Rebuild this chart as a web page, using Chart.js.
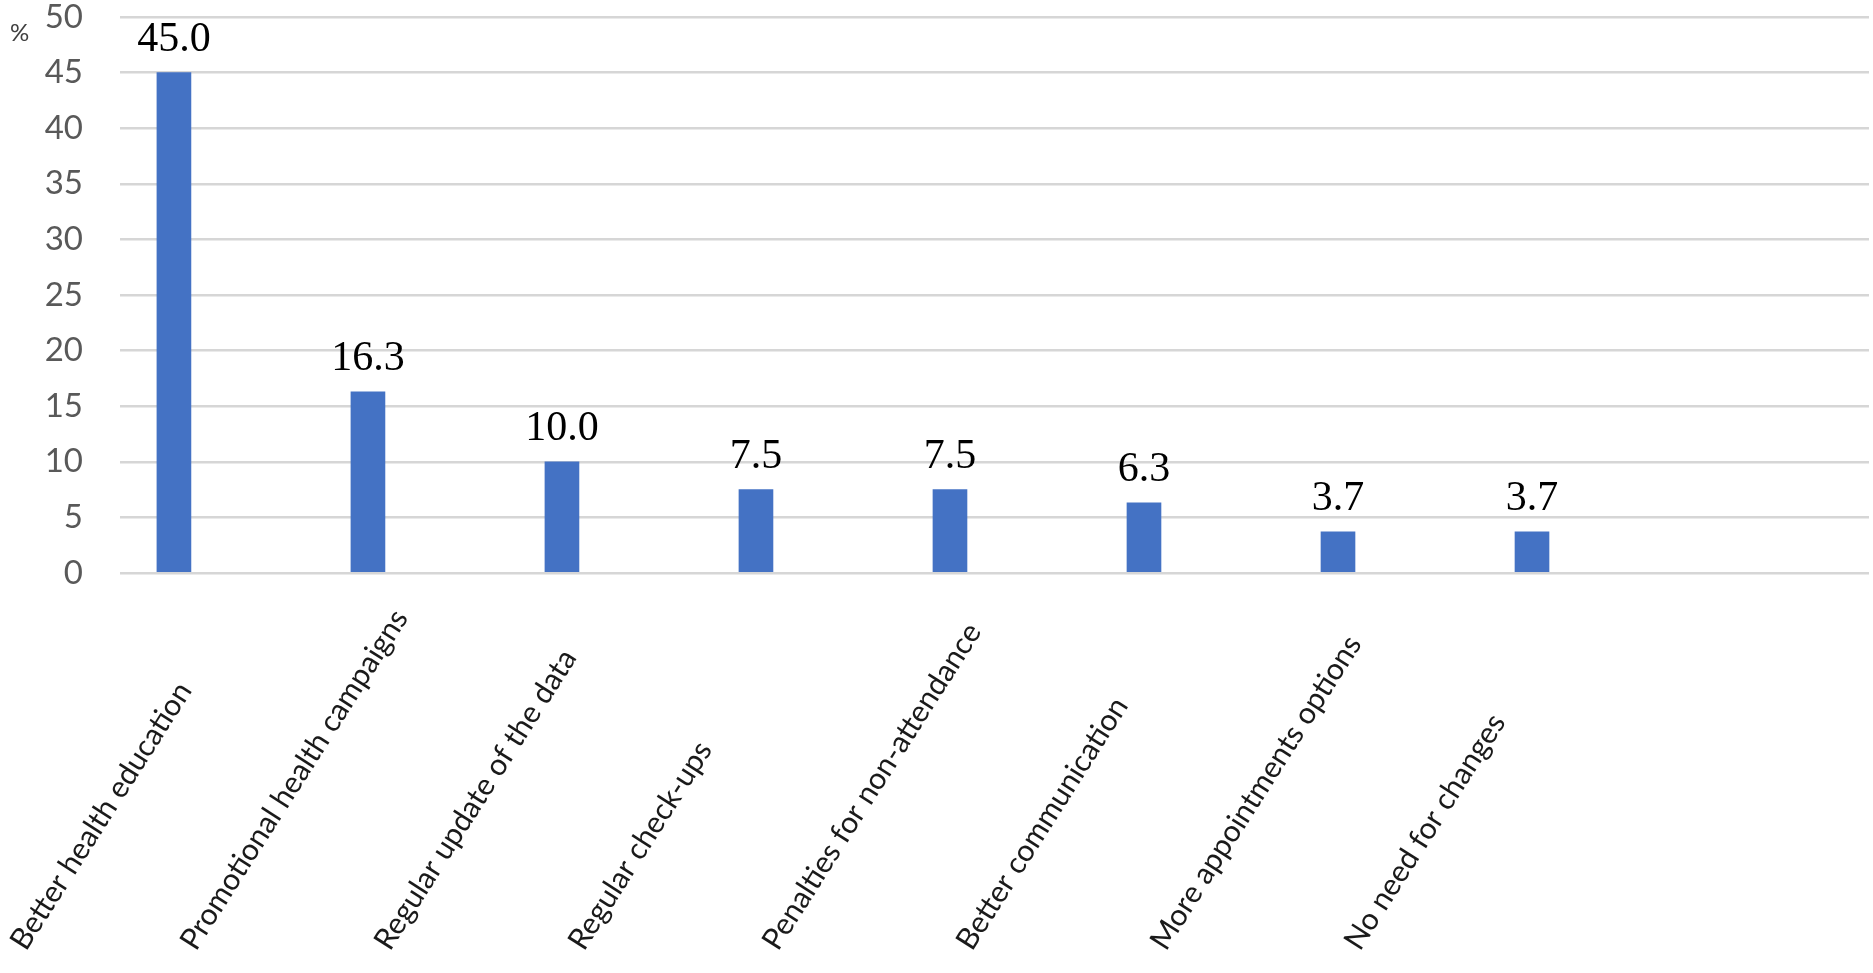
<!DOCTYPE html>
<html>
<head>
<meta charset="utf-8">
<script src="https://cdn.jsdelivr.net/npm/chart.js@4/dist/chart.umd.min.js"></script>
<style>
  html, body { margin: 0; padding: 0; background: #fff; }
  #wrap { width: 1873px; height: 973px; }
</style>
</head>
<body>
<div id="wrap"><canvas id="chart" width="1873" height="973"></canvas></div>
<script>
const categories = [
    "Better health education",
    "Promotional health campaigns",
    "Regular update of the data",
    "Regular check-ups",
    "Penalties for non-attendance",
    "Better communication",
    "More appointments options",
    "No need for changes"
];
const percentValues = [45.0, 16.3, 10.0, 7.5, 7.5, 6.3, 3.7, 3.7];
const yTicks = [0, 5, 10, 15, 20, 25, 30, 35, 40, 45, 50];
const unitLabel = "%";

document.addEventListener("DOMContentLoaded", () => {
    //value labels, rotated category labels and the % sign
    const textPlugin = {
        id: "textPlugin",
        afterDatasetsDraw(chart) {
            const ctx = chart.ctx;
            const meta = chart.getDatasetMeta(0);
            const xScale = chart.scales.x;
            const yScale = chart.scales.y;

            ctx.save();
            ctx.font = '42px "Liberation Serif"';
            ctx.fillStyle = "#000";
            ctx.textAlign = "center";
            ctx.textBaseline = "alphabetic";
            meta.data.forEach((bar, i) => {
                ctx.fillText(percentValues[i].toFixed(1), bar.x, bar.y - 22);
            });

            ctx.font = "30px Lato";
            ctx.fillStyle = "#1a1a1a";
            ctx.textAlign = "left";
            categories.forEach((label, i) => {
                //keep the first label inside the canvas
                const x0 = Math.max(xScale.getPixelForValue(i) - 172, yScale.left + 26);
                ctx.save();
                ctx.translate(x0, xScale.bottom - 21);
                ctx.rotate(-57.5 * Math.PI / 180);
                ctx.fillText(label, 0, 0);
                ctx.restore();
            });

            ctx.font = "24px Lato";
            ctx.fillStyle = "#404040";
            ctx.fillText(unitLabel, yScale.left + 10, yScale.getPixelForValue(yTicks[yTicks.length - 1]) + 24);
            ctx.restore();
        }
    };

    new Chart(document.getElementById("chart"), {
        type: "bar",
        data: {
            datasets: [{
                data: percentValues.map((v, i) => ({ x: i, y: v })),
                backgroundColor: "#4472C4",
                borderWidth: 0,
                barThickness: 34,
            }],
        },
        options: {
            responsive: false,
            animation: false,
            devicePixelRatio: 1,
            layout: { padding: { top: 17, right: 4, left: 0, bottom: 0 } },
            plugins: {
                legend: { display: false },
                tooltip: { enabled: false },
            },
            scales: {
                x: {
                    type: "linear",
                    offset: false,
                    min: -0.278,
                    max: 8.737,
                    grid: { display: false },
                    border: { display: false },
                    ticks: { display: false },
                    afterFit: (scale) => { scale.height = 400; },
                },
                y: {
                    min: yTicks[0],
                    max: yTicks[yTicks.length - 1],
                    afterBuildTicks: (scale) => { scale.ticks = yTicks.map(v => ({ value: v })); },
                    grid: { color: "#d6d6d6", lineWidth: 2.5, drawTicks: false },
                    border: { display: false },
                    ticks: {
                        color: "#595959",
                        font: { family: "Lato", size: 33, lineHeight: 1 },
                        padding: 37,
                    },
                    afterFit: (scale) => {
                        scale.width = 120;
                        scale.paddingTop = 0;
                        scale.paddingBottom = 0;
                    },
                },
            },
        },
        plugins: [textPlugin],
    });
});
</script>
</body>
</html>
